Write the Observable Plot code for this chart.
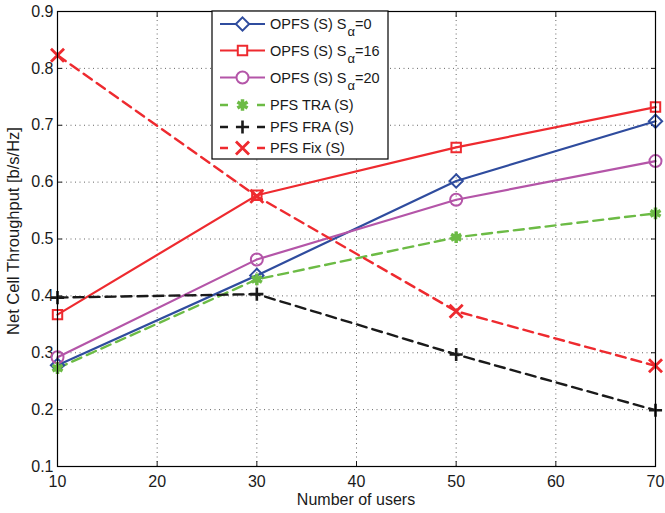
<!DOCTYPE html>
<html><head><meta charset="utf-8">
<script src="https://cdn.jsdelivr.net/npm/d3@7"></script>
<script src="https://cdn.jsdelivr.net/npm/@observablehq/plot@0.6"></script>
<style>
body{margin:0;background:#fff;font-family:"Liberation Sans",Arial,sans-serif}
#chart{position:relative;width:665px;height:513px}
</style>
</head><body><div id="chart"></div>
<script>
const users = [10, 30, 50, 70];
const opfs0  = [0.278, 0.436, 0.602, 0.707];
const opfs16 = [0.367, 0.577, 0.661, 0.732];
const opfs20 = [0.292, 0.464, 0.569, 0.637];
const pfsTRA = [0.273, 0.429, 0.503, 0.545];
const pfsFRA = [0.397, 0.403, 0.297, 0.199];
const pfsFix = [0.823, 0.575, 0.373, 0.277];
const xTicks = [10, 20, 30, 40, 50, 60, 70];
const yTicks = [0.1, 0.2, 0.3, 0.4, 0.5, 0.6, 0.7, 0.8, 0.9];
const xLabel = "Number of users";
const yLabel = "Net Cell Throughput [b/s/Hz]";

const series = [
  {main: "OPFS (S) S", sub: "α", tail: "=0",  values: opfs0,  color: "#2f4c9e", dash: null,  symbol: "diamond2", r: 6,   sw: 2.2, msw: 2},
  {main: "OPFS (S) S", sub: "α", tail: "=16", values: opfs16, color: "#ee2a2f", dash: null,  symbol: "square2",  r: 6,   sw: 2.2, msw: 2},
  {main: "OPFS (S) S", sub: "α", tail: "=20", values: opfs20, color: "#b455a8", dash: null,  symbol: "circle",   r: 6,   sw: 2.2, msw: 2},
  {main: "PFS TRA (S)", values: pfsTRA, color: "#6cbb45", dash: "10,6", symbol: "asterisk", r: 5.5, sw: 2.4, msw: 3.5},
  {main: "PFS FRA (S)", values: pfsFRA, color: "#1a1a1a", dash: "10,6", symbol: "plus",     r: 4.3, sw: 2.4, msw: 2.6},
  {main: "PFS Fix (S)", values: pfsFix, color: "#ee2a2f", dash: "10,6", symbol: "times",    r: 6,   sw: 2.4, msw: 2.8}
];

const rows = series.flatMap((s, i) => users.map((u, j) => ({x: u, y: s.values[j], k: i})));

const marks = [
  Plot.ruleX(xTicks.slice(1, -1), {stroke: "#666", strokeDasharray: "1,3.5", strokeWidth: 1}),
  Plot.ruleY(yTicks.slice(1, -1), {stroke: "#666", strokeDasharray: "1,3.5", strokeWidth: 1}),
  Plot.axisX({ticks: xTicks, tickSize: 0, tickPadding: 9, fontSize: 16, label: null}),
  Plot.axisY({ticks: yTicks, tickSize: 0, tickPadding: 4, tickFormat: d3.format(".1f"), fontSize: 16, label: null}),
  Plot.axisX({anchor: "bottom", ticks: xTicks, tickSize: -5, tickFormat: () => "", label: null}),
  Plot.axisX({anchor: "top", ticks: xTicks, tickSize: -5, tickFormat: () => "", label: null}),
  Plot.axisY({anchor: "left", ticks: yTicks, tickSize: -5, tickFormat: () => "", label: null}),
  Plot.axisY({anchor: "right", ticks: yTicks, tickSize: -5, tickFormat: () => "", label: null}),
];
series.forEach((s, i) => {
  const data = rows.filter(r => r.k === i);
  marks.push(Plot.line(data, {x: "x", y: "y", stroke: s.color, strokeWidth: s.sw, strokeDasharray: s.dash}));
});
series.forEach((s, i) => {
  const data = rows.filter(r => r.k === i);
  marks.push(Plot.dot(data, {x: "x", y: "y", symbol: () => s.symbol, stroke: s.color, fill: "none", r: s.r, strokeWidth: s.msw}));
});
marks.push(Plot.frame({stroke: "#000", strokeWidth: 1.2}));

const chart = Plot.plot({
  width: 665, height: 513,
  marginLeft: 57, marginRight: 10, marginTop: 11, marginBottom: 47,
  x: {domain: [10, 70]},
  y: {domain: [0.1, 0.9]},
  symbol: {type: "identity"},
  style: {fontFamily: "'Liberation Sans', Arial, sans-serif", fontSize: "16px", color: "#1a1a1a", background: "#fff"},
  marks
});
document.getElementById("chart").appendChild(chart);

const svg = d3.select(chart);
// axis labels
svg.append("text").attr("x", 356).attr("y", 505).attr("text-anchor", "middle")
  .attr("font-size", 16).attr("fill", "#1a1a1a").text(xLabel);
svg.append("text").attr("transform", "translate(19,231) rotate(-90)").attr("text-anchor", "middle")
  .attr("font-size", 16.5).attr("fill", "#1a1a1a").text(yLabel);

// legend (box inside the plot)
const lg = svg.append("g").attr("font-family", "'Liberation Sans', Arial, sans-serif").attr("font-size", 14.5).attr("text-anchor", "start");
const bx = 212, by = 11, bw = 176, bh = 148;
lg.append("rect").attr("x", bx).attr("y", by).attr("width", bw).attr("height", bh).attr("fill", "#fff").attr("stroke", "#000").attr("stroke-width", 1.2);
const rowY = [24, 50.5, 77.5, 105, 127, 148];
const symMap = {diamond2: d3.symbolDiamond2, square2: d3.symbolSquare2, circle: d3.symbolCircle, asterisk: d3.symbolAsterisk, plus: d3.symbolPlus, times: d3.symbolTimes};
series.forEach((s, i) => {
  const y = rowY[i];
  const g = lg.append("g");
  g.append("line").attr("x1", 220).attr("x2", 265).attr("y1", y).attr("y2", y)
    .attr("stroke", s.color).attr("stroke-width", s.sw).attr("stroke-dasharray", s.dash ? "8,29" : null);
  g.append("path").attr("transform", `translate(242.5,${y})`)
    .attr("d", d3.symbol(symMap[s.symbol], Math.PI * s.r * s.r)())
    .attr("fill", s.dash ? "none" : "#fff")
    .attr("stroke", s.color).attr("stroke-width", s.msw);
  const t = g.append("text").attr("x", 270).attr("y", y).attr("dy", "0.36em").attr("fill", "#1a1a1a");
  t.append("tspan").text(s.main);
  if (s.sub) {
    t.append("tspan").attr("dx", 1).attr("dy", 7).attr("font-size", 13).text(s.sub);
    t.append("tspan").attr("dy", -7).text(s.tail);
  }
});
</script>
</body></html>
